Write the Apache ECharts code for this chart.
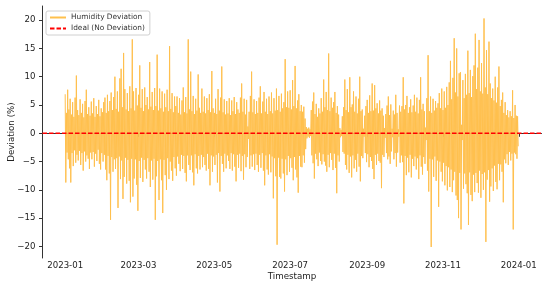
<!DOCTYPE html>
<html><head><meta charset="utf-8">
<script src="https://cdn.jsdelivr.net/npm/echarts@6/dist/echarts.min.js"></script>
<style>html,body{margin:0;padding:0;background:#fff}#c{width:550px;height:288px}</style>
</head><body><div id="c"></div>
<script>
// Day-by-day envelope of the hourly humidity deviation (%), 2023-01-01 .. 2023-12-31
const startYear = 2023;
const dailyHigh = [
6.9,3.6,7.7,4.2,6.1,3.3,5.5,2.9,6.3,10.2,
4.1,3.2,6.0,3.6,5.2,2.8,5.7,7.7,3.4,4.6,
3.1,5.6,3.5,6.2,2.9,4.8,3.4,5.9,3.0,4.4,
3.7,5.5,6.3,3.6,6.8,3.9,5.7,7.2,4.1,6.4,
10.0,4.3,7.4,3.8,9.7,11.4,4.6,14.2,7.8,4.2,
7.1,3.9,8.3,4.4,16.6,7.4,4.0,8.0,4.9,6.8,
12.0,4.5,7.8,3.9,8.1,5.0,6.4,4.2,12.6,4.7,
7.3,4.1,8.0,4.8,13.9,4.0,7.9,4.4,7.4,3.8,
7.0,4.6,7.7,3.9,15.4,4.3,7.1,3.7,6.5,4.8,
6.5,3.6,6.2,3.3,5.8,8.1,3.7,6.4,3.5,16.6,
4.2,10.9,3.9,6.6,3.4,6.1,4.0,10.4,4.5,3.6,
7.9,3.8,6.5,3.5,6.2,4.1,6.9,3.7,11.0,4.4,
3.6,6.1,3.4,7.8,4.0,6.3,11.8,3.7,6.0,3.3,
5.7,3.5,6.2,3.2,5.8,3.9,6.4,3.4,5.5,4.2,
3.6,6.3,8.8,3.8,6.1,3.3,5.9,1.2,3.8,6.6,
10.9,3.7,6.0,3.4,5.7,3.6,6.3,8.3,3.5,5.6,
7.3,3.8,6.1,3.4,6.5,3.9,7.2,3.5,6.2,4.0,
7.9,4.1,6.6,3.8,7.0,4.4,5.5,13.1,4.6,7.4,
4.5,7.6,4.2,9.4,4.8,11.9,4.4,5.8,6.9,3.9,
5.0,3.8,4.7,2.6,1.1,0.8,1.0,0.7,4.1,5.6,
7.2,3.4,5.2,2.9,4.4,3.5,6.2,3.8,9.5,4.6,
7.3,4.1,14.1,3.9,6.3,4.5,5.5,7.3,3.6,4.8,
3.3,0.9,0.6,3.0,4.6,9.5,4.1,7.8,3.7,9.9,
4.6,5.1,7.4,3.8,6.5,3.5,6.1,10.0,3.9,4.2,
0.8,3.1,4.8,5.9,3.6,6.7,3.9,8.8,4.0,8.5,
4.4,5.3,3.5,5.8,4.0,4.4,3.1,0.9,3.4,4.9,
6.5,3.2,5.1,0.8,4.0,3.3,6.8,3.6,0.7,4.9,
3.8,4.8,9.9,4.2,5.0,6.6,3.6,4.6,6.0,3.7,
4.9,6.8,3.8,6.3,3.5,5.9,9.9,4.2,5.2,3.9,
1.0,6.2,13.8,3.9,6.5,3.6,6.1,4.0,5.7,4.5,
5.3,7.1,4.4,7.9,4.1,7.4,4.5,8.2,5.0,9.0,
12.8,6.0,9.8,16.8,7.2,15.0,6.5,10.6,10.8,1.5,
9.4,6.2,10.5,6.8,14.6,7.1,11.2,6.4,10.1,12.0,
17.6,7.8,11.6,16.5,7.4,12.4,7.0,20.3,8.1,14.7,
6.9,16.2,8.8,6.2,7.9,5.8,10.0,5.4,8.1,11.8,
4.8,5.9,7.2,3.6,5.5,3.2,4.1,2.8,3.9,3.0,
7.6,2.7,5.0,3.1,3.0
];
const dailyLow = [
-8.7,-3.4,-4.6,-6.2,-8.7,-3.5,-5.8,-3.0,-5.2,-3.8,
-4.8,-3.1,-5.6,-3.5,-6.6,-3.2,-5.0,-3.9,-4.5,-6.3,
-3.4,-4.6,-3.3,-5.9,-3.6,-4.9,-2.9,-5.4,-6.4,-3.5,
-5.0,-3.8,-6.4,-8.3,-4.0,-7.1,-15.3,-4.2,-6.8,-4.6,
-6.3,-4.4,-13.2,-4.1,-8.1,-4.8,-11.6,-7.7,-4.3,-8.9,
-4.7,-8.4,-12.2,-4.5,-11.2,-8.0,-4.6,-9.1,-13.7,-4.9,
-7.9,-4.3,-8.6,-4.7,-6.4,-8.0,-4.4,-6.8,-9.5,-4.8,
-8.2,-4.5,-15.3,-7.6,-4.9,-11.8,-4.6,-8.3,-14.1,-4.7,
-7.4,-10.0,-4.4,-8.1,-5.0,-6.6,-8.4,-4.2,-6.2,-7.5,
-4.1,-5.4,-6.7,-3.8,-6.3,-4.0,-7.0,-8.5,-3.9,-5.6,
-6.5,-3.9,-6.9,-9.2,-3.7,-6.2,-7.1,-4.0,-6.4,-3.8,
-6.0,-4.2,-5.6,-6.6,-3.6,-6.3,-9.2,-3.9,-6.8,-4.1,
-5.6,-3.8,-8.7,-3.5,-10.3,-4.0,-5.4,-6.8,-3.6,-6.2,
-3.9,-4.9,-6.3,-3.5,-6.6,-3.7,-5.9,-8.5,-3.8,-6.1,
-3.6,-6.7,-4.0,-8.2,-3.7,-6.0,-4.2,-1.0,-6.3,-3.9,
-5.9,-3.7,-6.5,-3.6,-5.6,-6.8,-3.8,-6.1,-3.5,-6.6,
-9.2,-3.9,-6.4,-7.3,-3.7,-6.9,-4.1,-11.5,-4.4,-7.6,
-19.7,-4.3,-7.7,-8.0,-4.5,-7.1,-10.3,-4.6,-7.4,-4.0,
-6.8,-4.4,-6.1,-8.3,-4.2,-6.4,-7.8,-10.5,-4.0,-5.9,
-6.0,-3.9,-5.2,-2.8,-0.9,-0.6,-0.8,-0.5,-3.9,-5.3,
-8.0,-3.6,-4.6,-5.8,-3.4,-4.9,-5.5,-3.7,-5.0,-5.7,
-6.8,-3.8,-6.0,-3.5,-4.7,-6.5,-3.6,-6.1,-10.6,-3.9,
-5.0,-0.7,-0.5,-3.3,-3.6,-5.6,-6.4,-3.8,-7.0,-4.1,
-7.8,-3.9,-6.2,-4.7,-6.8,-3.6,-5.9,-8.5,-4.0,-4.4,
-0.6,-3.5,-5.1,-3.7,-6.0,-4.2,-4.9,-6.3,-8.1,-3.8,
-5.6,-3.6,-4.9,-5.2,-9.7,-3.8,-4.2,-0.8,-3.5,-4.6,
-4.1,-5.4,-3.2,-0.7,-4.6,-3.5,-5.9,-3.4,-0.6,-5.2,
-3.9,-5.1,-12.4,-4.0,-7.4,-4.3,-6.9,-3.8,-7.8,-4.5,
-5.8,-4.1,-6.4,-4.4,-8.1,-3.9,-5.9,-7.3,-4.2,-5.4,
-1.2,-6.6,-10.3,-4.5,-20.1,-4.6,-7.7,-4.1,-8.4,-4.8,
-13.0,-5.0,-6.8,-8.5,-5.2,-9.2,-5.8,-10.1,-6.0,-9.5,
-6.4,-10.4,-8.3,-6.8,-11.0,-11.8,-15.0,-7.0,-17.0,-1.2,
-9.8,-7.1,-9.0,-10.6,-16.2,-6.9,-10.9,-12.0,-7.3,-10.4,
-7.0,-8.8,-10.5,-6.6,-11.4,-7.2,-10.0,-6.9,-19.2,-8.2,
-6.5,-12.1,-9.4,-6.2,-10.2,-5.7,-8.6,-9.9,-5.4,-8.3,
-5.5,-6.8,-12.2,-4.6,-5.3,-3.7,-5.6,-3.3,-4.8,-3.6,
-17.0,-3.4,-3.7,-4.5,-2.3
];
const xTickLabels = ['2023-01','2023-03','2023-05','2023-07','2023-09','2023-11','2024-01'];
const yTickValues = [-20,-15,-10,-5,0,5,10,15,20];
const idealValue = 0;
const seriesNames = ['Humidity Deviation', 'Ideal (No Deviation)'];

const DAY = 86400000;
const t0 = new Date(startYear, 0, 1).getTime();
const tEnd = new Date(startYear + 1, 0, 1).getTime();
const span = tEnd - t0;
const xMin = t0 - span * 0.05;
const xMax = tEnd + span * 0.05;

const devData = [];
for (let i = 0; i < dailyHigh.length; i++) {
  const t = new Date(startYear, 0, 1 + i).getTime();
  devData.push([t, dailyHigh[i]]);
  devData.push([t + DAY / 2, dailyLow[i]]);
}
const xTickValues = xTickLabels.map(s => {
  const [y, m] = s.split('-').map(Number);
  return new Date(y, m - 1, 1).getTime();
});
const pad = n => (n < 10 ? '0' : '') + n;

const font = 'DejaVu Sans';
const chart = echarts.init(document.getElementById('c'), null, {renderer: 'canvas'});
chart.setOption({
  animation: false,
  backgroundColor: '#fff',
  grid: {left: 42.5, right: 8.5, top: 6, bottom: 30, outerBoundsMode: 'none', containLabel: false},
  legend: {
    orient: 'vertical', left: 46, top: 11,
    padding: [3, 5, 3, 3], itemGap: 4,
    itemWidth: 16, itemHeight: 8,
    borderColor: '#d0d0d0', borderWidth: 1, borderRadius: 2,
    backgroundColor: 'rgba(255,255,255,0.85)',
    itemStyle: {opacity: 0},
    textStyle: {fontFamily: font, fontSize: 7.4, color: '#333'},
    data: seriesNames
  },
  xAxis: {
    type: 'value', min: xMin, max: xMax,
    name: 'Timestamp', nameLocation: 'middle', nameGap: 14, nameMoveOverlap: false,
    nameTextStyle: {fontFamily: font, fontSize: 8.7, color: '#222'},
    axisLine: {lineStyle: {color: '#333', width: 1}},
    axisTick: {show: true, length: 3.5, customValues: xTickValues, lineStyle: {color: '#333'}},
    axisLabel: {
      customValues: xTickValues, margin: 3,
      fontFamily: font, fontSize: 8.6, color: '#222',
      formatter: v => { const d = new Date(v); return d.getFullYear() + '-' + pad(d.getMonth() + 1); }
    },
    splitLine: {show: false}
  },
  yAxis: {
    type: 'value', min: -22.05, max: 22.5,
    name: 'Deviation (%)', nameLocation: 'middle', nameGap: 26, nameRotate: 90, nameMoveOverlap: false,
    nameTextStyle: {fontFamily: font, fontSize: 8.7, color: '#222'},
    axisLine: {show: true, lineStyle: {color: '#333', width: 1}},
    axisTick: {show: true, length: 3.5, customValues: yTickValues, lineStyle: {color: '#333'}},
    axisLabel: {
      customValues: yTickValues, margin: 7,
      fontFamily: font, fontSize: 8.6, color: '#222',
      formatter: v => String(v).replace('-', '\u2212')
    },
    splitLine: {show: false}
  },
  series: [
    {
      name: seriesNames[0], type: 'line', data: devData,
      showSymbol: false, symbol: 'none',
      lineStyle: {color: '#FFC04D', width: 1},
      itemStyle: {color: '#FFC04D'},
      z: 2
    },
    {
      name: seriesNames[1], type: 'line',
      data: [[xMin, idealValue], [xMax, idealValue]],
      showSymbol: false, symbol: 'none',
      lineStyle: {color: '#FF0000', width: 1.3, type: [4.5, 2]},
      itemStyle: {color: '#FF0000'},
      z: 3
    }
  ]
});
</script>
</body></html>
